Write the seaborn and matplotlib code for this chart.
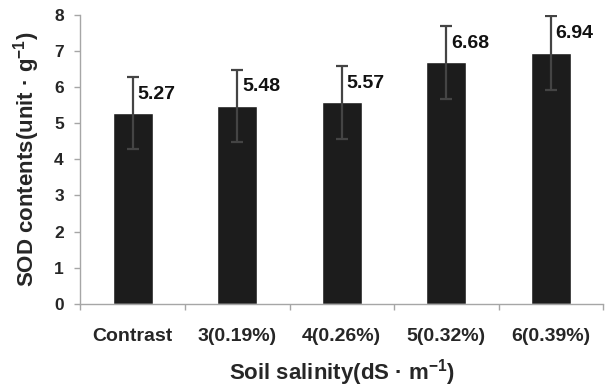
import numpy as np
import pandas as pd
import matplotlib
matplotlib.use("Agg")
import matplotlib.pyplot as plt
import seaborn as sns

categories = ["Contrast", "3(0.19%)", "4(0.26%)", "5(0.32%)", "6(0.39%)"]
sod_values = [5.27, 5.48, 5.57, 6.68, 6.94]
sod_errors = [1.00, 1.00, 1.02, 1.01, 1.02]

sns.set_style("white")
plt.rcParams["font.family"] = ["Liberation Sans", "DejaVu Sans"]
plt.rcParams["mathtext.fontset"] = "custom"
plt.rcParams["mathtext.rm"] = "Liberation Sans"
plt.rcParams["mathtext.bf"] = "Liberation Sans:bold"
plt.rcParams["mathtext.default"] = "bf"

df = pd.DataFrame({"salinity": categories, "sod": sod_values, "err": sod_errors})

fig = plt.figure(figsize=(6.07, 3.87), dpi=100)
ax = fig.add_axes([0.1326, 0.2145, 0.861, 0.748])

sns.barplot(data=df, x="salinity", y="sod", color="#1c1c1c", width=0.385,
            saturation=1, errorbar=None, ax=ax)

x = np.arange(len(categories))
ax.errorbar(x, df["sod"], yerr=df["err"], fmt="none", ecolor="#444444",
            elinewidth=1.6, capsize=4, capthick=1.6, zorder=3)

for xi, v in zip(x, df["sod"]):
    ax.text(xi + 0.045, v + 0.53, f"{v:.2f}", ha="left", va="center",
            fontsize=14, fontweight="bold", color="#111111")

ax.set_ylim(0, 8)
ax.set_xlim(-0.5, len(categories) - 0.5)
ax.set_yticks(range(0, 9))
ax.tick_params(axis="y", labelsize=12.5, length=4, color="#a6a6a6", width=1, pad=8,
               left=True)
for lbl in ax.get_yticklabels():
    lbl.set_fontweight("bold")

ax.set_xticks(x)
ax.set_xticklabels(categories, fontsize=14, fontweight="bold")
ax.tick_params(axis="x", which="major", length=0, pad=17)
ax.set_xticks(np.arange(-0.5, len(categories)), minor=True)
ax.tick_params(axis="x", which="minor", length=4, color="#a6a6a6", width=1, bottom=True)

for side in ["top", "right"]:
    ax.spines[side].set_visible(False)
for side in ["left", "bottom"]:
    ax.spines[side].set_color("#a6a6a6")
    ax.spines[side].set_linewidth(1)

ax.set_xlabel(r"Soil salinity(dS · m$^{-1}$)", fontsize=16, fontweight="bold", labelpad=9)
ax.set_ylabel(r"SOD contents(unit · g$^{-1}$)", fontsize=16, fontweight="bold", labelpad=9)

fig.savefig("out.png", dpi=100, facecolor="white")
